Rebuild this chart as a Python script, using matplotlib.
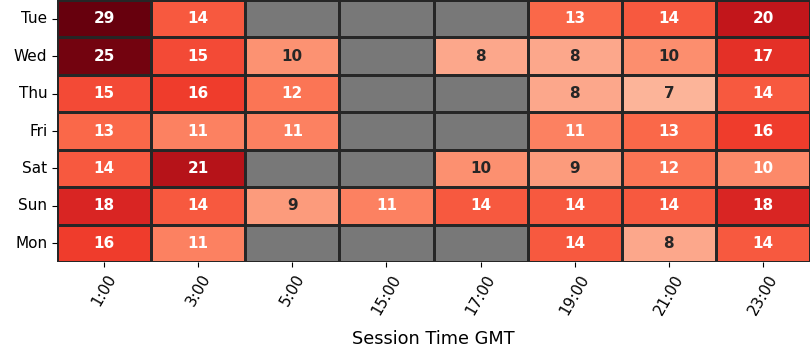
import numpy as np
import pandas as pd
import matplotlib
matplotlib.use("Agg")
import matplotlib.pyplot as plt
import seaborn as sns

days = ["Tue", "Wed", "Thu", "Fri", "Sat", "Sun", "Mon"]
times = ["1:00", "3:00", "5:00", "15:00", "17:00", "19:00", "21:00", "23:00"]
nan = np.nan
tue = [29, 14, nan, nan, nan, 13, 14, 20]
wed = [25, 15, 9.7, nan, 8, 8, 10, 17]
thu = [15, 16, 12, nan, nan, 8, 7, 14]
fri = [13, 11, 11, nan, nan, 11, 13, 16]
sat = [14, 21, nan, nan, 9.8, 9, 12, 10.4]
sun = [18, 14, 9, 11, 14, 14, 14, 18]
mon = [16, 11, nan, nan, nan, 14, 8, 14]

df = pd.DataFrame([tue, wed, thu, fri, sat, sun, mon], index=days, columns=times)

fig = plt.figure(figsize=(8.1, 3.6), dpi=100)
ax = fig.add_axes([0.0704, 0.272, 0.9296, 0.728])
ax.set_facecolor("#787878")
sns.heatmap(df, ax=ax, cmap="Reds", vmin=0, robust=True, annot=True, fmt=".0f",
            annot_kws={"fontsize": 11, "fontweight": "bold"},
            linewidths=1, linecolor="#262626", cbar=False)
ax.set_xlabel("Session Time GMT", fontsize=12.8, labelpad=9)
ax.set_ylabel("")
ax.tick_params(axis="x", labelsize=11, rotation=60)
ax.tick_params(axis="y", labelsize=11, rotation=0)
fig.savefig("out.png", dpi=100)
